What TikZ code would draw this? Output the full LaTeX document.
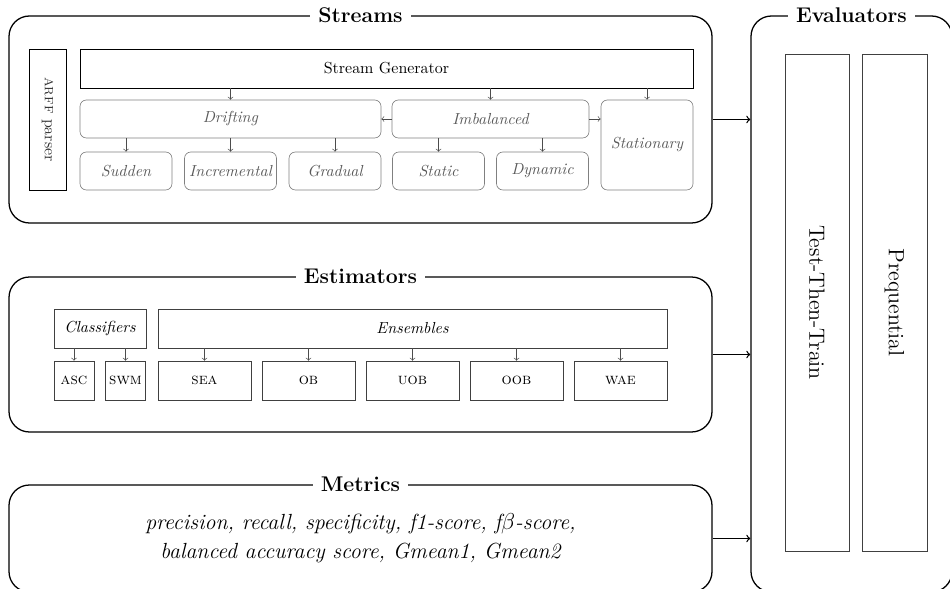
\documentclass[tikz,border=0pt]{standalone}
\begin{document}
\begin{tikzpicture}[thick,
    group/.style={draw, rounded corners=0.45cm, inner sep=0pt},
    title/.style={fill=white, inner xsep=5pt, font=\bfseries\fontsize{13.3}{16}\selectfont},
    plain/.style={draw, thin, inner sep=0pt, minimum height=0.858cm},
    kind/.style={draw=black!50, thin, rounded corners=4pt, text=black!65, font=\itshape,
                 inner sep=0pt, minimum height=0.836cm, minimum width=2.024cm},
    algo/.style={draw=black!75, thin, inner sep=0pt, minimum height=0.858cm, font=\scshape},
    link/.style={->, thin, black!70},
    feed/.style={->, thick}]
    \useasboundingbox (0,0) rectangle (20.9,12.936);

    % outer boxes
    \node [group, minimum width=15.466cm, minimum height=4.554cm] (streams) at (7.931,10.307) {};
    \node [group, minimum width=15.466cm, minimum height=3.41cm]  (estims)  at (7.931,5.137) {};
    \node [group, minimum width=15.466cm, minimum height=2.354cm, align=center,
           font=\itshape\fontsize{13.7}{17}\selectfont] (metrics) at (7.931,1.089)
          {precision, recall, specificity, f1-score, f$\beta$-score,\\[1pt]
           balanced accuracy score, Gmean1, Gmean2};
    \node [group, minimum width=4.422cm, minimum height=12.672cm] (evals) at (18.733,6.248) {};

    % box titles
    \node [title] (streamsT) at (streams.north) {Streams};
    \node [title] (estimsT)  at (estims.north)  {Estimators};
    \node [title] (metricsT) at (metrics.north) {Metrics};
    \node [title] (evalsT)   at (evals.north)   {Evaluators};

    % streams
    \node [plain, rotate=-90, minimum width=3.102cm, minimum height=0.814cm, text=black!80]
          (arff) at (1.045,10.307) {\textsc{arff} parser};
    \node [plain, minimum width=13.486cm] (gen) at (8.503,11.429) {Stream Generator};
    \node [kind, minimum width=6.622cm] (drift) at (5.071,10.318) {Drifting};
    \node [kind, minimum width=4.334cm] (imbal) at (10.791,10.318) {Imbalanced};
    \node [kind, minimum height=1.98cm] (stat)  at (14.234,9.746) {Stationary};
    \node [kind] (sudden) at (2.772,9.174)  {Sudden};
    \node [kind] (incr)   at (5.071,9.174)  {Incremental};
    \node [kind] (grad)   at (7.37,9.174)   {Gradual};
    \node [kind] (static) at (9.647,9.174)  {Static};
    \node [kind] (dyn)    at (11.935,9.174) {Dynamic};

    \foreach \n in {drift,imbal,stat}
        \draw [link] (gen.south -| \n) -- (\n);
    \foreach \n in {sudden,incr,grad}
        \draw [link] (drift.south -| \n) -- (\n);
    \foreach \n in {static,dyn}
        \draw [link] (imbal.south -| \n) -- (\n);
    \draw [link] (imbal) -- (drift);
    \draw [link] (imbal) -- (imbal -| stat.west);

    % estimators
    \node [algo, font=\itshape, minimum width=2.024cm]  (clf) at (2.2,5.709)   {Classifiers};
    \node [algo, font=\itshape, minimum width=11.198cm] (ens) at (9.075,5.709) {Ensembles};
    \node [algo, minimum width=0.88cm]  (asc) at (1.628,4.565)  {asc};
    \node [algo, minimum width=0.88cm]  (swm) at (2.761,4.565)  {swm};
    \node [algo, minimum width=2.046cm] (sea) at (4.499,4.565)  {sea};
    \node [algo, minimum width=2.046cm] (ob)  at (6.787,4.565)  {ob};
    \node [algo, minimum width=2.046cm] (uob) at (9.075,4.565)  {uob};
    \node [algo, minimum width=2.046cm] (oob) at (11.363,4.565) {oob};
    \node [algo, minimum width=2.046cm] (wae) at (13.651,4.565) {wae};

    \foreach \n in {asc,swm}
        \draw [link] (clf.south -| \n) -- (\n);
    \foreach \n in {sea,ob,uob,oob,wae}
        \draw [link] (ens.south -| \n) -- (\n);

    % evaluators
    \node [algo, font=\fontsize{13.8}{16}\selectfont, rotate=-90, minimum width=10.934cm, minimum height=1.408cm]
          (ttt) at (17.974,6.281) {Test-Then-Train};
    \node [algo, font=\fontsize{13.8}{16}\selectfont, rotate=-90, minimum width=10.934cm, minimum height=1.43cm]
          (preq) at (19.679,6.281) {Prequential};

    % into the evaluators
    \draw [feed] (streams) -- (streams -| evals.west);
    \draw [feed] (estims)  -- (estims -| evals.west);
    \draw [feed] (metrics) -- (metrics -| evals.west);
\end{tikzpicture}
\end{document}
